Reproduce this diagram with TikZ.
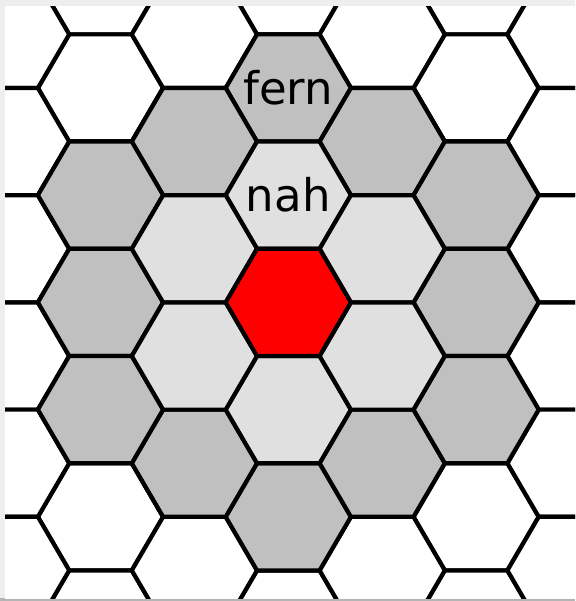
\documentclass[tikz,border=0pt]{standalone}
\usepackage{fontspec}
\newfontfamily\labelfont{DejaVu Sans}
\usepackage{xcolor}
\usepackage{tikz}

\definecolor{ringone}{HTML}{E0E0E0}
\definecolor{ringtwo}{HTML}{C0C0C0}
\definecolor{framegray}{HTML}{EEEEEE}
\definecolor{edgegray}{HTML}{B4B4B4}

% one hexagon cell: fill colour, column q, half-row s
\newcommand{\hexcell}[3]{%
  \filldraw[hexline, fill=#1, shift={(288.3+#2*93.9, 302.4+#3*53.6)}]
    (-62.6,0) -- (-31.3,-53.6) -- (31.3,-53.6) -- (62.6,0)
    -- (31.3,53.6) -- (-31.3,53.6) -- cycle;}

\begin{document}
\begin{tikzpicture}[x=1pt, y=-1pt,
  hexline/.style={draw=black, line width=4.2pt, line join=round},
  cellname/.style={font=\labelfont\fontsize{45}{45}\selectfont, inner sep=0pt}
]

% frame
\fill[framegray] (0,0) rectangle (575,601);
\fill[white] (5,7) rectangle (575,598);
\fill[edgegray] (0,598) rectangle (575,601);
\useasboundingbox (0,0) rectangle (575,601);

\begin{scope}
\clip (5,7) rectangle (575,598);

% plain grid
\foreach \q in {-2,0,2}
  \foreach \s in {-6,-4,...,6}
    \hexcell{white}{\q}{\s};
\foreach \q in {-3,-1,1,3}
  \foreach \s in {-5,-3,...,5}
    \hexcell{white}{\q}{\s};

% second ring
\foreach \q/\s in {0/-4, 0/4, -1/-3, -1/3, 1/-3, 1/3,
                   -2/-2, -2/0, -2/2, 2/-2, 2/0, 2/2}
  \hexcell{ringtwo}{\q}{\s};

% first ring
\foreach \q/\s in {0/-2, 0/2, -1/-1, -1/1, 1/-1, 1/1}
  \hexcell{ringone}{\q}{\s};

% centre cell
\hexcell{red}{0}{0};
\end{scope}

% labels
\node[cellname] (fern) at (288.3, 88) {fern};
\node[cellname] (nah) at (288.3, 195.2) {nah};

\end{tikzpicture}
\end{document}
